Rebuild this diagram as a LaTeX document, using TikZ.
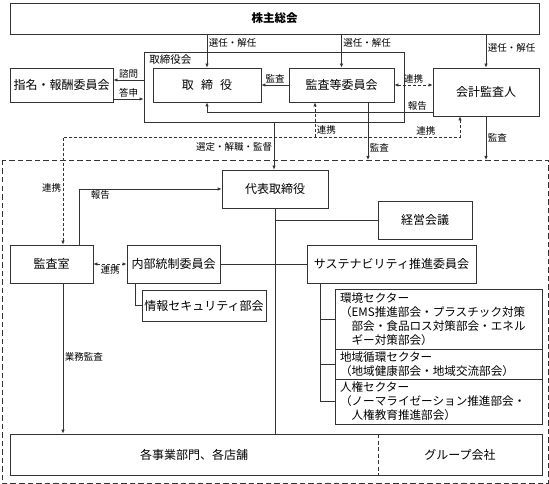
\documentclass[tikz,border=0pt]{standalone}
\usepackage{fontspec}
\setmainfont{Noto Sans CJK JP}
\usetikzlibrary{arrows.meta}

\begin{document}
\begin{tikzpicture}[x=1pt,y=-1pt,
    conn/.style={line width=0.8pt, draw=black!80},
    box/.style={conn, draw, inner sep=0pt, font=\fontsize{12}{14}\selectfont},
    txt/.style={inner sep=0pt, font=\fontsize{12}{14}\selectfont},
    lbl/.style={inner sep=1.5pt, font=\fontsize{9.5}{11}\selectfont},
    sector/.style={conn, draw, minimum width=207pt, text width=197pt, align=left,
        inner xsep=5pt, inner ysep=0pt, font=\fontsize{11.6}{14}\selectfont},
    arr/.style={conn, -{Latex[length=4pt,width=3.5pt]}},
    darr/.style={arr, dash pattern=on 3pt off 2pt},
    dboth/.style={conn, dash pattern=on 3pt off 2pt,
        {Latex[length=4pt,width=3.5pt]}-{Latex[length=4pt,width=3.5pt]}},
    outerframe/.style={conn, dash pattern=on 5.5pt off 3pt}]
    \useasboundingbox (0,0) rectangle (549,484);

    % top level
    \node[box, minimum width=529pt, minimum height=31pt,
        font=\fontsize{11.5}{14}\selectfont\bfseries] (soukai) at (274.5,18.5) {株主総会};
    \node[box, minimum width=260pt, minimum height=70pt] (torikai) at (274,87) {};
    \node[lbl, anchor=north west, font=\fontsize{10.5}{12}\selectfont] (torikaititle)
        at ([xshift=4pt,yshift=-1pt]torikai.north west) {取締役会};
    \node[box, minimum width=103pt, minimum height=34pt] (shimei) at (61.5,85) {指名・報酬委員会};
    \node[box, minimum width=108pt, minimum height=34pt] (torishimari) at (207,85) {取\hspace{0.6em}締\hspace{0.6em}役};
    \node[box, minimum width=105pt, minimum height=34pt] (kansatou) at (341.5,85) {監査等委員会};
    \node[box, minimum width=106pt, minimum height=48pt] (kaikei) at (486,92) {会計監査人};

    % executive side
    \draw[outerframe] (2,160) rectangle (548,483);
    \node[box, minimum width=106pt, minimum height=38pt] (daihyo) at (275,189) {代表取締役};
    \node[box, minimum width=94pt, minimum height=38pt] (keiei) at (425,220) {経営会議};
    \node[box, minimum width=83pt, minimum height=38pt] (kansashitsu) at (51.5,264) {監査室};
    \node[box, minimum width=93pt, minimum height=38pt] (naibu) at (173.5,264) {内部統制委員会};
    \node[box, minimum width=124pt, minimum height=31pt] (joho) at (204,305.5) {情報セキュリティ部会};
    \node[box, minimum width=169pt, minimum height=38pt] (sustain) at (391.5,264) {サステナビリティ推進委員会};
    \node[sector, minimum height=60pt] (env) at (438.5,319)
        {環境セクター\\（EMS推進部会・プラスチック対策\\\hspace*{1em}部会・食品ロス対策部会・エネル\\\hspace*{1em}ギー対策部会）};
    \node[sector, minimum height=30pt] (chiiki) at (438.5,364)
        {地域循環セクター\\（地域健康部会・地域交流部会）};
    \node[sector, minimum height=45pt] (jinken) at (438.5,401.5)
        {人権セクター\\（ノーマライゼーション推進部会・\\\hspace*{1em}人権教育推進部会）};
    \node[box, minimum width=532pt, minimum height=41pt] (base) at (276,454.5) {};
    \node[txt] (jigyo) at (194,454.5) {各事業部門、各店舗};
    \node[txt] (group) at (460,454.5) {グループ会社};
    \coordinate (split) at (378,434);
    \draw[conn, dash pattern=on 4pt off 2.5pt] (split) -- (split |- base.south);

    \coordinate (rk) at (0,137);
    \coordinate (ftop) at (0,160);

    % election
    \draw[arr] (soukai.south -| torishimari.north) -- node[lbl, right, pos=0.27] {選任・解任} (torishimari.north);
    \draw[arr] (soukai.south -| kansatou.north) -- node[lbl, right, pos=0.27] {選任・解任} (kansatou.north);
    \draw[arr] (soukai.south -| kaikei.north) -- node[lbl, right, pos=0.41] {選任・解任} (kaikei.north);

    \draw[arr] ([yshift=5pt]shimei.east -| torikai.west) -- node[lbl, above] {諮問} ([yshift=5pt]shimei.east);
    \draw[arr] ([yshift=-14pt]shimei.east) -- node[lbl, above] {答申} ([yshift=-14pt]shimei.east -| torikai.west);
    \draw[arr] (kansatou.west) -- node[lbl, above] {監査} (kansatou.west -| torishimari.east);
    \draw[dboth] (kansatou.east) -- node[lbl, above] {連携} (kansatou.east -| kaikei.west);
    \draw[arr] ([yshift=-20pt]kaikei.west) -| (torishimari.south);
    \node[lbl, above left, xshift=-4pt] (houkoku) at ([yshift=-20pt]kaikei.west) {報告};

    % cooperation
    \draw[dboth] ([xshift=-26pt]kaikei.south) |- node[lbl, above, pos=0.543] {連携}
        ([xshift=11.5pt]kansashitsu.north |- rk) -- node[lbl, left, pos=0.47] {連携}
        ([xshift=11.5pt]kansashitsu.north);
    \draw[darr] ([xshift=-26.5pt]kansatou.south |- rk) -- node[lbl, right, pos=0.2] {連携} ([xshift=-26.5pt]kansatou.south);

    \draw[arr] (torikai.south) -- node[lbl, left, pos=0.52] {選定・解職・監督} (torikai.south |- daihyo.north);
    \draw[arr] ([xshift=26.5pt]kansatou.south) -- node[lbl, right, pos=0.78] {監査} ([xshift=26.5pt]kansatou.south |- ftop);
    \draw[arr] (kaikei.south) -- node[lbl, right, pos=0.5] {監査} (kaikei.south |- ftop);

    % inside
    \draw[arr] ([xshift=27.5pt]kansashitsu.north) |- node[lbl, below, pos=0.575] {報告} (daihyo.west);
    \draw[dboth] (kansashitsu.east) -- node[lbl, below] {連携} (naibu.west);
    \draw[arr] ([xshift=11.5pt]kansashitsu.south) -- node[lbl, right, pos=0.49] {業務監査}
        ([xshift=11.5pt]kansashitsu.south |- base.north);
    \draw[conn] (daihyo.south) -- (daihyo.south |- base.north);
    \draw[conn] (daihyo.south |- keiei.west) -- (keiei.west);
    \draw[conn] (naibu.east) -- (sustain.west);
    \draw[conn] ([xshift=-38.5pt]naibu.south) |- (joho.west);
    \draw[conn] ([xshift=-71.5pt]sustain.south) |- (jinken.west);
    \draw[conn] ([xshift=-71.5pt]sustain.south |- env.west) -- (env.west);
    \draw[conn] ([xshift=-71.5pt]sustain.south |- chiiki.west) -- (chiiki.west);
\end{tikzpicture}
\end{document}
